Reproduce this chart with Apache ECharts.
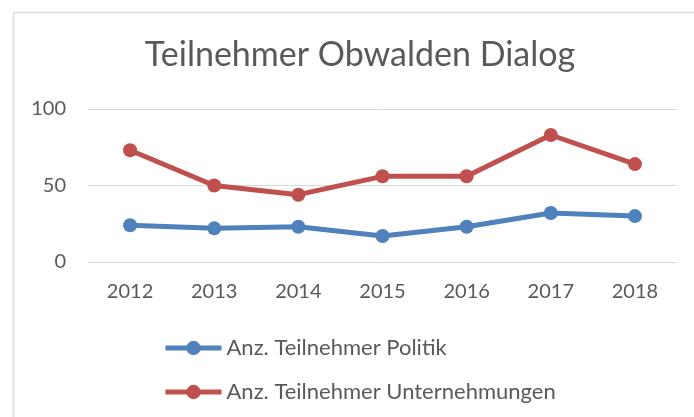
<!DOCTYPE html>
<html>
<head>
<meta charset="utf-8">
<script src="https://cdn.jsdelivr.net/npm/echarts@6/dist/echarts.min.js"></script>
<style>html,body{margin:0;padding:0;background:#fff}#c{width:694px;height:417px}</style>
</head>
<body>
<div id="c"></div>
<script>
const years = ['2012','2013','2014','2015','2016','2017','2018'];
const politik = [24, 22, 23, 17, 23, 32, 30];
const unternehmungen = [73, 50, 44, 56, 56, 83, 64];
const seriesNames = ['Anz. Teilnehmer Politik', 'Anz. Teilnehmer Unternehmungen'];
const titleText = 'Teilnehmer Obwalden Dialog';

const FONT = 'Lato';
const TXT = '#595959';
const BLUE = '#4f81bd';
const RED = '#c0504d';
const chart = echarts.init(document.getElementById('c'), null, {renderer: 'canvas'});
chart.setOption({
  animation: false,
  backgroundColor: '#fff',
  graphic: [{
    type: 'rect', left: 11, top: 10, z: -1,
    shape: {x: 0, y: 0, width: 720, height: 440},
    style: {fill: 'none', stroke: '#d9d9d9', lineWidth: 1.5}
  }],
  title: {
    text: titleText, left: 360, textAlign: 'center', top: 38, padding: 0,
    textStyle: {fontFamily: FONT, fontSize: 34, fontWeight: 'normal', color: TXT}
  },
  grid: {left: 88, right: 17, top: 109, bottom: 155, containLabel: false},
  legend: {
    orient: 'vertical', left: 163, top: 337, padding: 0,
    itemWidth: 56, itemHeight: 18, itemGap: 22,
    lineStyle: {width: 5},
    textStyle: {fontFamily: FONT, fontSize: 22, color: TXT, lineHeight: 22}
  },
  xAxis: {
    type: 'category', data: years, boundaryGap: true,
    axisLine: {show: true, lineStyle: {color: '#d9d9d9', width: 1}},
    axisTick: {show: false},
    axisLabel: {fontFamily: FONT, fontSize: 20, color: TXT, margin: 20}
  },
  yAxis: {
    type: 'value', min: 0, max: 100, interval: 50,
    axisLine: {show: false}, axisTick: {show: false},
    splitLine: {lineStyle: {color: '#d9d9d9', width: 1}},
    axisLabel: {fontFamily: FONT, fontSize: 20, color: TXT, margin: 22}
  },
  series: [
    {
      name: seriesNames[0], type: 'line', data: politik,
      symbol: 'circle', symbolSize: 14,
      lineStyle: {color: BLUE, width: 5},
      itemStyle: {color: BLUE}
    },
    {
      name: seriesNames[1], type: 'line', data: unternehmungen,
      symbol: 'circle', symbolSize: 14,
      lineStyle: {color: RED, width: 5},
      itemStyle: {color: RED}
    }
  ]
});
</script>
</body>
</html>
